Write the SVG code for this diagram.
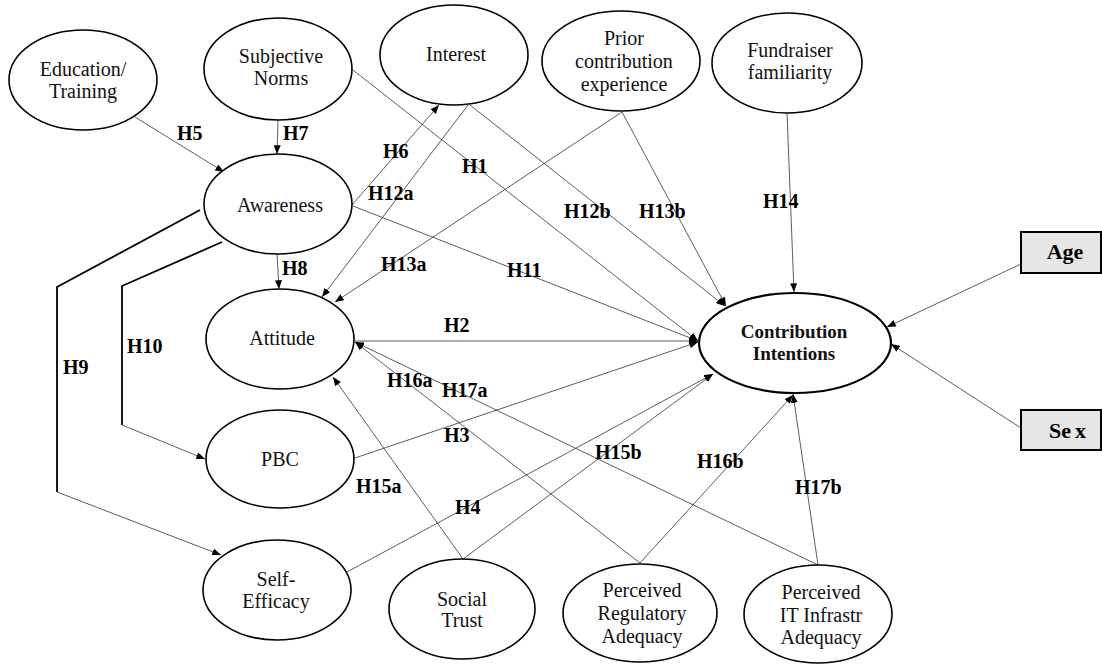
<svg xmlns="http://www.w3.org/2000/svg" width="1102" height="664" viewBox="0 0 1102 664" font-family="Liberation Serif, Times New Roman, serif">
<defs>
<marker id="ah" viewBox="0 0 10 8" refX="10" refY="4" markerWidth="9" markerHeight="7" orient="auto" markerUnits="userSpaceOnUse"><path d="M0,0 L10,4 L0,8 z" fill="#000"/></marker>
<style>
.n{fill:#fff;stroke:#000;stroke-width:1.6}
.t{font-size:20px;fill:#111;text-anchor:middle}
.b{font-size:20px;font-weight:bold;fill:#000}
.c{fill:none;stroke:#333;stroke-width:0.8}
.a{marker-end:url(#ah)}
.k{fill:none;stroke:#000;stroke-width:1.8}
.box{fill:#e6e6e6;stroke:#000;stroke-width:2}
</style>
</defs>
<rect width="1102" height="664" fill="#fff"/>
<g id="connectors">
<line class="c a" x1="135" y1="117" x2="224" y2="172"/>
<line class="c a" x1="278" y1="120" x2="277" y2="154"/>
<line class="c a" x1="277" y1="254" x2="279" y2="289"/>
<polyline class="k" points="200,210 57,287 57,492"/>
<line class="c a" x1="57" y1="492" x2="221" y2="555"/>
<polyline class="k" points="222,242 122,286 122,425"/>
<line class="c a" x1="122" y1="425" x2="205" y2="459"/>
<line class="c a" x1="352" y1="205" x2="439" y2="105"/>
<line class="c a" x1="468" y1="105" x2="322" y2="297"/>
<line class="c a" x1="353" y1="70" x2="698" y2="341"/>
<line class="c a" x1="470" y1="105" x2="725" y2="306"/>
<line class="c a" x1="622" y1="112" x2="726" y2="306"/>
<line class="c a" x1="622" y1="112" x2="335" y2="302"/>
<line class="c a" x1="787" y1="113" x2="794" y2="292"/>
<line class="c a" x1="353" y1="206" x2="698" y2="341"/>
<line class="c a" x1="355" y1="341" x2="698" y2="341"/>
<line class="c a" x1="355" y1="458" x2="698" y2="342"/>
<line class="c a" x1="347" y1="572" x2="713" y2="374"/>
<line class="c a" x1="463" y1="559" x2="713" y2="374"/>
<line class="c a" x1="463" y1="559" x2="333" y2="377"/>
<line class="c a" x1="640" y1="563" x2="355" y2="342"/>
<line class="c a" x1="818" y1="565" x2="355" y2="342"/>
<line class="c a" x1="640" y1="563" x2="793" y2="395"/>
<line class="c a" x1="818" y1="565" x2="793" y2="394"/>
<line class="c a" x1="1021" y1="264" x2="887" y2="327"/>
<line class="c a" x1="1021" y1="428" x2="891" y2="344"/>
</g>
<g id="labels">
<text class="b" x="177" y="140">H5</text>
<text class="b" x="283" y="140">H7</text>
<text class="b" x="383" y="158">H6</text>
<text class="b" x="462" y="173">H1</text>
<text class="b" x="368" y="200">H12a</text>
<text class="b" x="564" y="218">H12b</text>
<text class="b" x="639" y="218">H13b</text>
<text class="b" x="763" y="208">H14</text>
<text class="b" x="282" y="275">H8</text>
<text class="b" x="127" y="353">H10</text>
<text class="b" x="63" y="374">H9</text>
<text class="b" x="381" y="271">H13a</text>
<text class="b" x="507" y="277">H11</text>
<text class="b" x="444" y="332">H2</text>
<text class="b" x="387" y="387">H16a</text>
<text class="b" x="442" y="397">H17a</text>
<text class="b" x="444" y="442">H3</text>
<text class="b" x="595" y="459">H15b</text>
<text class="b" x="697" y="468">H16b</text>
<text class="b" x="795" y="494">H17b</text>
<text class="b" x="356" y="493">H15a</text>
<text class="b" x="455" y="514">H4</text>
</g>
<g id="education">
<ellipse class="n" cx="83" cy="80" rx="74" ry="50"/>
<text class="t" x="83" y="76">Education/</text>
<text class="t" x="83" y="98">Training</text>
</g>
<g id="subjective-norms">
<ellipse class="n" cx="278" cy="69" rx="74" ry="51"/>
<text class="t" x="281" y="63">Subjective</text>
<text class="t" x="281" y="85">Norms</text>
</g>
<g id="interest">
<ellipse class="n" cx="454" cy="55" rx="74" ry="50"/>
<text class="t" x="456" y="61">Interest</text>
</g>
<g id="prior">
<ellipse class="n" cx="621" cy="61" rx="79" ry="50"/>
<text class="t" x="624" y="45">Prior</text>
<text class="t" x="624" y="68">contribution</text>
<text class="t" x="624" y="91">experience</text>
</g>
<g id="fundraiser">
<ellipse class="n" cx="787" cy="63" rx="75" ry="50"/>
<text class="t" x="790" y="57">Fundraiser</text>
<text class="t" x="790" y="79">familiarity</text>
</g>
<g id="awareness">
<ellipse class="n" cx="278" cy="204" rx="74" ry="50"/>
<text class="t" x="280" y="212">Awareness</text>
</g>
<g id="attitude">
<ellipse class="n" cx="280" cy="339" rx="74" ry="50"/>
<text class="t" x="282" y="345">Attitude</text>
</g>
<g id="pbc">
<ellipse class="n" cx="280" cy="459" rx="74" ry="49"/>
<text class="t" x="280" y="466">PBC</text>
</g>
<g id="self-efficacy">
<ellipse class="n" cx="277" cy="590" rx="74" ry="50"/>
<text class="t" x="276" y="586">Self-</text>
<text class="t" x="276" y="608">Efficacy</text>
</g>
<g id="social-trust">
<ellipse class="n" cx="462" cy="609" rx="73" ry="50"/>
<text class="t" x="462" y="606">Social</text>
<text class="t" x="462" y="627">Trust</text>
</g>
<g id="regulatory">
<ellipse class="n" cx="640" cy="613" rx="77" ry="49"/>
<text class="t" x="642" y="597">Perceived</text>
<text class="t" x="642" y="620">Regulatory</text>
<text class="t" x="642" y="643">Adequacy</text>
</g>
<g id="it-infra">
<ellipse class="n" cx="818" cy="614" rx="74" ry="49"/>
<text class="t" x="821" y="599">Perceived</text>
<text class="t" x="821" y="622">IT Infrastr</text>
<text class="t" x="821" y="644">Adequacy</text>
</g>
<g id="contribution-intentions">
<ellipse class="n" cx="795" cy="343" rx="96" ry="50" style="stroke-width:2.2"/>
<text class="t" x="794" y="338" style="font-weight:bold;font-size:19px">Contribution</text>
<text class="t" x="794" y="360" style="font-weight:bold;font-size:19px">Intentions</text>
</g>
<g id="age">
<rect class="box" x="1021" y="232" width="80" height="41"/>
<text class="b" x="1065" y="259" style="font-size:22px;text-anchor:middle">Age</text>
</g>
<g id="sex">
<rect class="box" x="1021" y="410" width="80" height="40"/>
<text class="b" x="1049" y="438" style="font-size:22px">Se<tspan dx="4">x</tspan></text>
</g>
</svg>
